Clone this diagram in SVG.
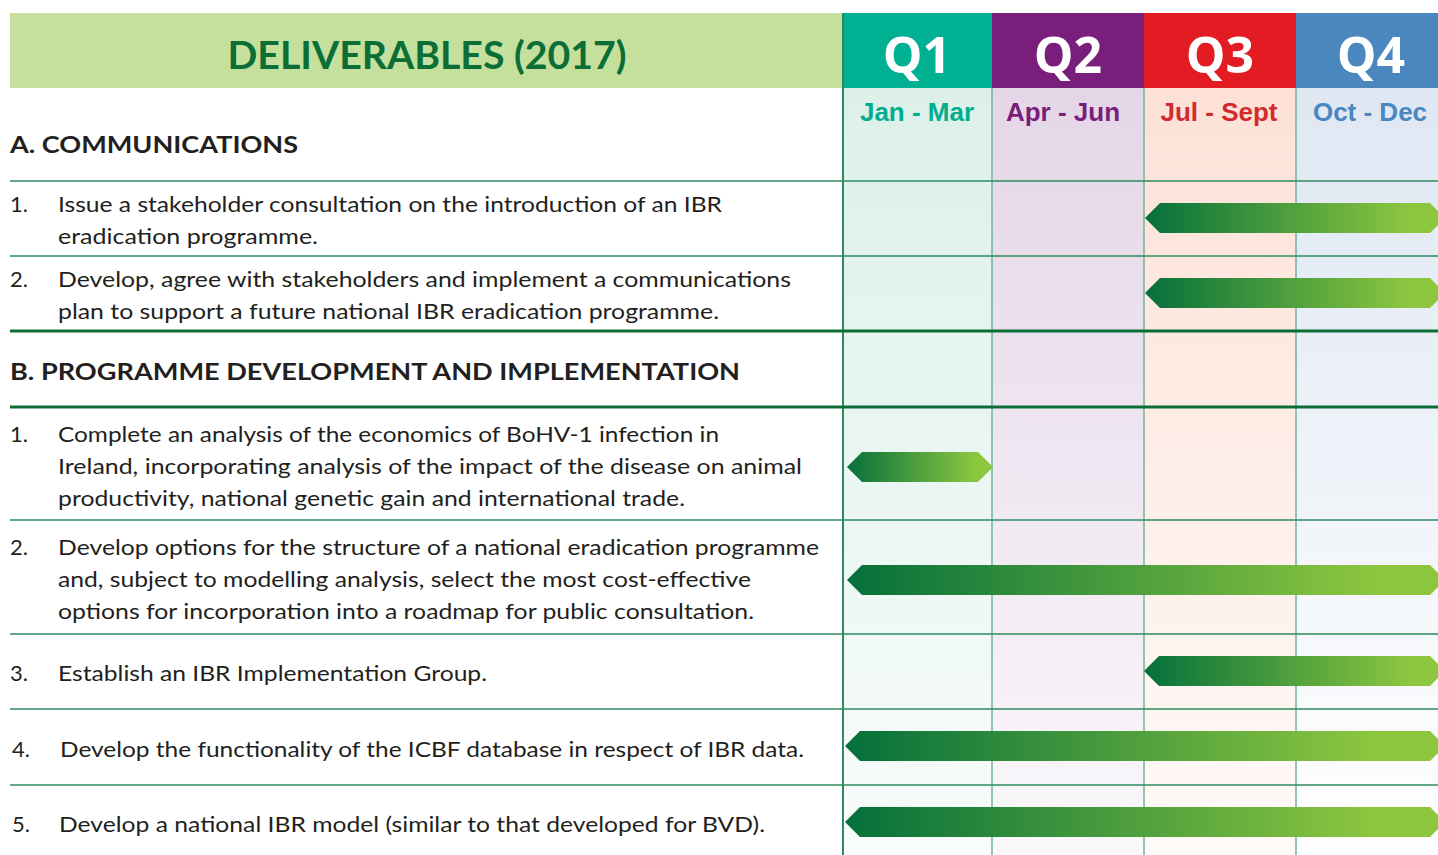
<svg xmlns="http://www.w3.org/2000/svg" width="1438" height="855" viewBox="0 0 1438 855">
<defs>
<style>
.body{font-family:Lato,"Open Sans","Liberation Sans",sans-serif;font-size:22px;fill:#231f20}
.sec{font-family:Lato,"Open Sans","Liberation Sans",sans-serif;font-size:23px;font-weight:bold;fill:#231f20}
.q{font-family:"Open Sans",Lato,"Liberation Sans",sans-serif;font-size:50px;font-weight:bold;fill:#ffffff}
.m{font-family:"Liberation Sans",Arial,sans-serif;font-size:26px;font-weight:bold}
.hl{stroke:#2e8b5f;stroke-width:1.5;fill:none}
.hlt{stroke:#0b6e37;stroke-width:3;fill:none}
.vl{stroke:#6fb49a;stroke-width:1.5;fill:none}
.bar{fill:url(#barG)}
</style>
<linearGradient id="barG" x1="0" y1="0" x2="1" y2="0">
<stop offset="0" stop-color="#05703b"/>
<stop offset="0.88" stop-color="#8cc63f"/>
<stop offset="1" stop-color="#8cc63f"/>
</linearGradient>
<linearGradient id="g1" x1="0" y1="88" x2="0" y2="855" gradientUnits="userSpaceOnUse">
<stop offset="0" stop-color="#dcf0e9"/><stop offset="1" stop-color="#f8fcfb"/>
</linearGradient>
<linearGradient id="g2" x1="0" y1="88" x2="0" y2="855" gradientUnits="userSpaceOnUse">
<stop offset="0" stop-color="#e4d6e7"/><stop offset="1" stop-color="#faf8fb"/>
</linearGradient>
<linearGradient id="g3" x1="0" y1="88" x2="0" y2="855" gradientUnits="userSpaceOnUse">
<stop offset="0" stop-color="#fde1d6"/><stop offset="1" stop-color="#fffaf8"/>
</linearGradient>
<linearGradient id="g4" x1="0" y1="88" x2="0" y2="855" gradientUnits="userSpaceOnUse">
<stop offset="0" stop-color="#dfe7f3"/><stop offset="1" stop-color="#ffffff"/>
</linearGradient>
</defs>
<rect width="1438" height="855" fill="#ffffff"/>

<g id="header">
<rect x="10" y="13" width="833" height="75" fill="#c5e09c"/>
<text x="427" y="69" text-anchor="middle" font-family="Lato,'Open Sans','Liberation Sans',sans-serif" font-size="38" font-weight="bold" fill="#0b6e37" textLength="399" lengthAdjust="spacingAndGlyphs">DELIVERABLES (2017)</text>
</g>

<g id="columns">
<rect x="843" y="88" width="149" height="767" fill="url(#g1)"/>
<rect x="992" y="88" width="152" height="767" fill="url(#g2)"/>
<rect x="1144" y="88" width="152" height="767" fill="url(#g3)"/>
<rect x="1296" y="88" width="142" height="767" fill="url(#g4)"/>
</g>

<g id="q1">
<rect x="843" y="13" width="149" height="75" fill="#00b092"/>
<text class="q" x="917" y="73" text-anchor="middle">Q1</text>
<text class="m" x="917" y="121" text-anchor="middle" fill="#00ad8e">Jan - Mar</text>
</g>
<g id="q2">
<rect x="992" y="13" width="152" height="75" fill="#7a1e7c"/>
<text class="q" x="1068" y="73" text-anchor="middle">Q2</text>
<text class="m" x="1063" y="121" text-anchor="middle" fill="#7a1e7c">Apr - Jun</text>
</g>
<g id="q3">
<rect x="1144" y="13" width="152" height="75" fill="#e31b23"/>
<text class="q" x="1220" y="73" text-anchor="middle">Q3</text>
<text class="m" x="1219" y="121" text-anchor="middle" fill="#d42a2f">Jul - Sept</text>
</g>
<g id="q4">
<rect x="1296" y="13" width="142" height="75" fill="#4a87bf"/>
<text class="q" x="1371" y="73" text-anchor="middle">Q4</text>
<text class="m" x="1370" y="121" text-anchor="middle" fill="#4a87bf">Oct - Dec</text>
</g>

<g id="grid">
<line class="vl" x1="992" y1="88" x2="992" y2="855"/>
<line class="vl" x1="1144" y1="88" x2="1144" y2="855"/>
<line class="vl" x1="1296" y1="88" x2="1296" y2="855"/>
<line x1="843" y1="13" x2="843" y2="855" stroke="#2e8b5f" stroke-width="2"/>
<line class="hl" x1="10" y1="181" x2="1438" y2="181"/>
<line class="hl" x1="10" y1="256" x2="1438" y2="256"/>
<line class="hlt" x1="10" y1="331" x2="1438" y2="331"/>
<line class="hlt" x1="10" y1="407" x2="1438" y2="407"/>
<line class="hl" x1="10" y1="520" x2="1438" y2="520"/>
<line class="hl" x1="10" y1="634" x2="1438" y2="634"/>
<line class="hl" x1="10" y1="709" x2="1438" y2="709"/>
<line class="hl" x1="10" y1="785" x2="1438" y2="785"/>
</g>

<g id="sectionA">
<text class="sec" x="10" y="153" textLength="288" lengthAdjust="spacingAndGlyphs">A. COMMUNICATIONS</text>
</g>
<g id="rowA1">
<text class="body" x="10" y="212">1.</text>
<text class="body" x="58" y="212" textLength="664" lengthAdjust="spacingAndGlyphs">Issue a stakeholder consultation on the introduction of an IBR</text>
<text class="body" x="58" y="244" textLength="260" lengthAdjust="spacingAndGlyphs">eradication programme.</text>
</g>
<g id="rowA2">
<text class="body" x="10" y="287">2.</text>
<text class="body" x="58" y="287" textLength="733" lengthAdjust="spacingAndGlyphs">Develop, agree with stakeholders and implement a communications</text>
<text class="body" x="58" y="319" textLength="661" lengthAdjust="spacingAndGlyphs">plan to support a future national IBR eradication programme.</text>
</g>
<g id="sectionB">
<text class="sec" x="10" y="380" textLength="730" lengthAdjust="spacingAndGlyphs">B. PROGRAMME DEVELOPMENT AND IMPLEMENTATION</text>
</g>
<g id="rowB1">
<text class="body" x="10" y="442">1.</text>
<text class="body" x="58" y="442" textLength="661" lengthAdjust="spacingAndGlyphs">Complete an analysis of the economics of BoHV-1 infection in</text>
<text class="body" x="58" y="474" textLength="744" lengthAdjust="spacingAndGlyphs">Ireland, incorporating analysis of the impact of the disease on animal</text>
<text class="body" x="58" y="506" textLength="627" lengthAdjust="spacingAndGlyphs">productivity, national genetic gain and international trade.</text>
</g>
<g id="rowB2">
<text class="body" x="10" y="555">2.</text>
<text class="body" x="58" y="555" textLength="761" lengthAdjust="spacingAndGlyphs">Develop options for the structure of a national eradication programme</text>
<text class="body" x="58" y="587" textLength="693" lengthAdjust="spacingAndGlyphs">and, subject to modelling analysis, select the most cost-effective</text>
<text class="body" x="58" y="619" textLength="696" lengthAdjust="spacingAndGlyphs">options for incorporation into a roadmap for public consultation.</text>
</g>
<g id="rowB3">
<text class="body" x="10" y="681">3.</text>
<text class="body" x="58" y="681" textLength="429" lengthAdjust="spacingAndGlyphs">Establish an IBR Implementation Group.</text>
</g>
<g id="rowB4">
<text class="body" x="12" y="757">4.</text>
<text class="body" x="60" y="757" textLength="744" lengthAdjust="spacingAndGlyphs">Develop the functionality of the ICBF database in respect of IBR data.</text>
</g>
<g id="rowB5">
<text class="body" x="12" y="832">5.</text>
<text class="body" x="59" y="832" textLength="706" lengthAdjust="spacingAndGlyphs">Develop a national IBR model (similar to that developed for BVD).</text>
</g>

<g id="bars">
<polygon class="bar" points="1145,218 1160,203 1430,203 1445,218 1430,233 1160,233"/>
<polygon class="bar" points="1145,293 1160,278 1430,278 1445,293 1430,308 1160,308"/>
<polygon class="bar" points="847,467 862,452 978,452 993,467 978,482 862,482"/>
<polygon class="bar" points="847,580 862,565 1430,565 1445,580 1430,595 862,595"/>
<polygon class="bar" points="1144,671 1159,656 1430,656 1445,671 1430,686 1159,686"/>
<polygon class="bar" points="845,746 860,731 1430,731 1445,746 1430,761 860,761"/>
<polygon class="bar" points="845,822 860,807 1430,807 1445,822 1430,837 860,837"/>
</g>
</svg>
